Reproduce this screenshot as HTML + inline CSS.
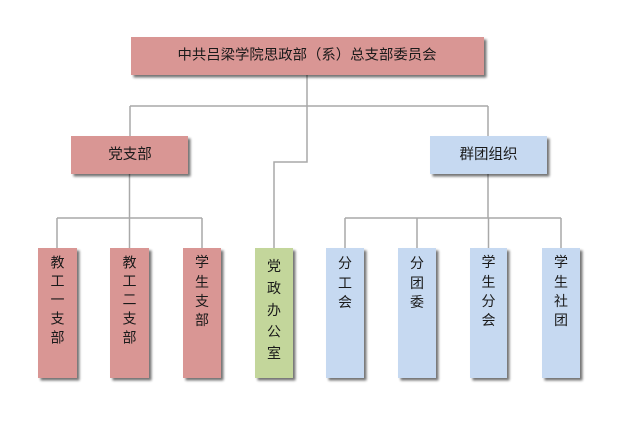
<!DOCTYPE html>
<html>
<head>
<meta charset="utf-8">
<style>
  html, body { margin: 0; padding: 0; background: #ffffff; }
  body { width: 622px; height: 422px; overflow: hidden; }
  svg text { font-family: "Liberation Sans", "Noto Sans CJK SC", "WenQuanYi Zen Hei", sans-serif; font-size: 14px; fill: #1a1a1a; }
</style>
</head>
<body>
<svg width="622" height="422" viewBox="0 0 622 422" xmlns="http://www.w3.org/2000/svg">
  <defs>
    <filter id="sh" x="-20%" y="-20%" width="150%" height="150%">
      <feGaussianBlur in="SourceAlpha" stdDeviation="1.2"/>
      <feOffset dx="2.5" dy="2.5" result="b"/>
      <feComponentTransfer><feFuncA type="linear" slope="0.55"/></feComponentTransfer>
      <feMerge><feMergeNode/><feMergeNode in="SourceGraphic"/></feMerge>
    </filter>
  </defs>

  <!-- connectors -->
  <g stroke="#a9a9a9" stroke-width="1.5" fill="none">
    <line x1="307" y1="75" x2="307" y2="106"/>
    <line x1="130" y1="106" x2="488" y2="106"/>
    <line x1="130" y1="106" x2="130" y2="136"/>
    <line x1="488" y1="106" x2="488" y2="136"/>
    <polyline points="307,106 307,162 274,162 274,248"/>
    <line x1="129.5" y1="174" x2="129.5" y2="218"/>
    <line x1="57" y1="218" x2="202" y2="218"/>
    <line x1="57" y1="218" x2="57" y2="248"/>
    <line x1="129.5" y1="218" x2="129.5" y2="248"/>
    <line x1="202" y1="218" x2="202" y2="248"/>
    <line x1="488" y1="174" x2="488" y2="218"/>
    <line x1="345" y1="218" x2="561" y2="218"/>
    <line x1="345" y1="218" x2="345" y2="248"/>
    <line x1="417" y1="218" x2="417" y2="248"/>
    <line x1="488.5" y1="218" x2="488.5" y2="248"/>
    <line x1="561" y1="218" x2="561" y2="248"/>
  </g>

  <!-- boxes -->
  <g filter="url(#sh)">
    <rect x="131" y="37" width="353" height="38" fill="#d99694"/>
    <rect x="71" y="136" width="117" height="38" fill="#d99694"/>
    <rect x="430" y="136" width="117" height="38" fill="#c6d9f1"/>
    <rect x="38" y="248" width="39" height="130" fill="#d99694"/>
    <rect x="110" y="248" width="39" height="130" fill="#d99694"/>
    <rect x="183" y="248" width="38" height="130" fill="#d99694"/>
    <rect x="255" y="248" width="38" height="130" fill="#c3d69b"/>
    <rect x="326" y="248" width="38" height="130" fill="#c6d9f1"/>
    <rect x="398" y="248" width="38" height="130" fill="#c6d9f1"/>
    <rect x="470" y="248" width="37" height="130" fill="#c6d9f1"/>
    <rect x="542" y="248" width="38" height="130" fill="#c6d9f1"/>
  </g>

  <!-- labels -->
  <g text-anchor="middle" dominant-baseline="central">
    <text x="307" y="55.5" style="font-size:14.4px">中共吕梁学院思政部（系）总支部委员会</text>
    <text x="130" y="155" style="font-size:14.5px">党支部</text>
    <text x="488.5" y="155" style="font-size:14.5px">群团组织</text>

    <!-- 教工一支部 -->
    <text x="57.5" y="262.5">教</text>
    <text x="57.5" y="281">工</text>
    <text x="57.5" y="299.5">一</text>
    <text x="57.5" y="318.5">支</text>
    <text x="57.5" y="337.5">部</text>

    <!-- 教工二支部 -->
    <text x="129.5" y="262.5">教</text>
    <text x="129.5" y="281">工</text>
    <text x="129.5" y="299.5">二</text>
    <text x="129.5" y="318.5">支</text>
    <text x="129.5" y="337.5">部</text>

    <!-- 学生支部 -->
    <text x="202" y="262">学</text>
    <text x="202" y="282">生</text>
    <text x="202" y="301">支</text>
    <text x="202" y="320">部</text>

    <!-- 党政办公室 -->
    <text x="274" y="266">党</text>
    <text x="274" y="288">政</text>
    <text x="274" y="310">办</text>
    <text x="274" y="331.5">公</text>
    <text x="274" y="353">室</text>

    <!-- 分工会 -->
    <text x="345" y="263">分</text>
    <text x="345" y="283">工</text>
    <text x="345" y="302">会</text>

    <!-- 分团委 -->
    <text x="417" y="263">分</text>
    <text x="417" y="283">团</text>
    <text x="417" y="302">委</text>

    <!-- 学生分会 -->
    <text x="488.5" y="262">学</text>
    <text x="488.5" y="282">生</text>
    <text x="488.5" y="301">分</text>
    <text x="488.5" y="320">会</text>

    <!-- 学生社团 -->
    <text x="561" y="262">学</text>
    <text x="561" y="282">生</text>
    <text x="561" y="301">社</text>
    <text x="561" y="320">团</text>
  </g>
</svg>
</body>
</html>
